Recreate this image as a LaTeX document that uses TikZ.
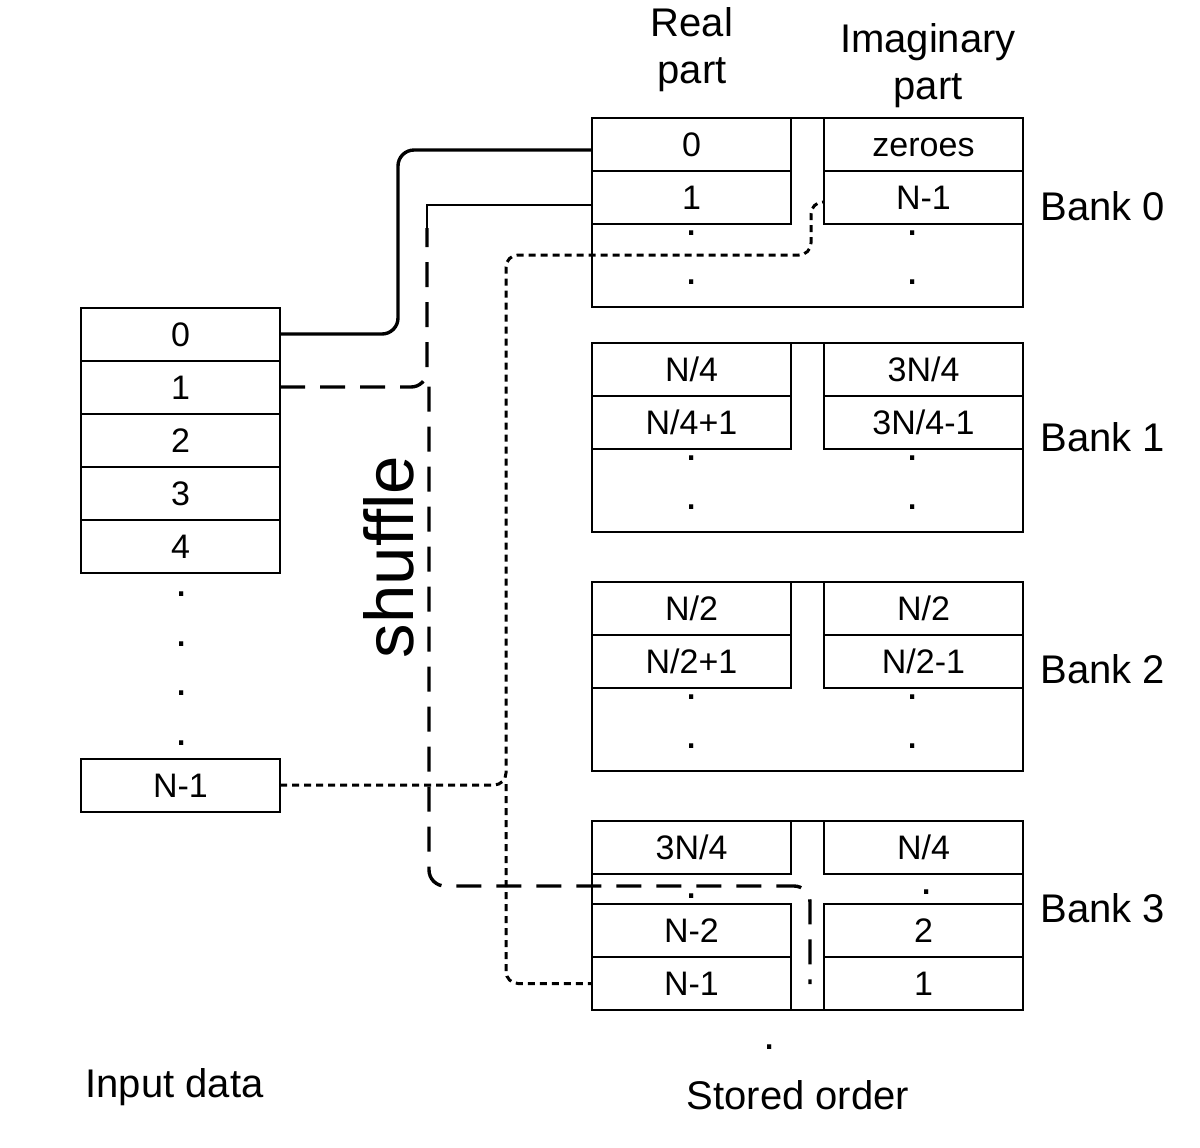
\documentclass[tikz,border=0pt]{standalone}
\usepackage{fontspec}
\setmainfont{Liberation Sans}
\usetikzlibrary{positioning}
\tikzset{
    cell/.style={draw, line width=1pt, outer sep=0pt, inner sep=0pt,
        minimum width=99.5pt, minimum height=26.5pt, text height=12.2pt, text depth=0pt,
        font=\fontsize{17}{20}\selectfont},
    bankbox/.style={draw, line width=1pt, outer sep=0pt, inner sep=0pt,
        minimum width=215.5pt, minimum height=94.5pt},
    pnt/.style={inner sep=0pt, font=\fontsize{22}{22}\selectfont},
    lbl/.style={inner sep=0pt, align=center, font=\fontsize{20}{23.5}\selectfont},
    wireA/.style={line width=1.7pt, rounded corners=8pt},
    wireB/.style={line width=1pt},
    wireC/.style={line width=1.7pt, dash pattern=on 12.5pt off 7.5pt, rounded corners=8pt},
    wireD/.style={line width=1.5pt, dash pattern=on 3.5pt off 2.5pt, rounded corners=6pt}
}
\begin{document}
\begin{tikzpicture}[x=0.5pt, y=-0.5pt]
    \useasboundingbox (0,0) rectangle (1200,1147);
    % input array
    \node[cell] (in0) at (180.5,334) {0};
    \node[cell, below=0pt of in0] (in1) {1};
    \node[cell, below=0pt of in1] (in2) {2};
    \node[cell, below=0pt of in2] (in3) {3};
    \node[cell, below=0pt of in3] (in4) {4};
    \node[pnt] (ind1) at (182,594) {.};
    \node[pnt] (ind2) at (182,644) {.};
    \node[pnt] (ind3) at (182,693) {.};
    \node[pnt] (ind4) at (182,743) {.};
    \node[cell] (inN) at (180.5,785) {N-1};
    \node[lbl, anchor=base] (inlbl) at (174.5,1097) {Input data};
    % banks
    \node[bankbox] (bank0) at (807.5,212.5) {};
    \node[bankbox] (bank1) at (807.5,437.5) {};
    \node[bankbox] (bank2) at (807.5,676.5) {};
    \node[bankbox] (bank3) at (807.5,915.5) {};
    \node[lbl, right=8.5pt of bank0, yshift=3.25pt] (lb0) {Bank 0};
    \node[lbl, right=8.5pt of bank1, yshift=0pt] (lb1) {Bank 1};
    \node[lbl, right=8.5pt of bank2, yshift=3.5pt] (lb2) {Bank 2};
    \node[lbl, right=8.5pt of bank3, yshift=3.75pt] (lb3) {Bank 3};
    \node[lbl] (realhd) at (692,50) {Real\\part};
    \node[lbl] (imaghd) at (928,66) {Imaginary\\part};

    \node[cell, anchor=north west] (b0r0) at (bank0.north west) {0};
    \node[cell, below=0pt of b0r0] (b0r1) {1};
    \node[cell, anchor=north east] (b0i0) at (bank0.north east) {zeroes};
    \node[cell, below=0pt of b0i0] (b0i1) {N-1};

    \node[cell, anchor=north west] (b1r0) at (bank1.north west) {N/4};
    \node[cell, below=0pt of b1r0] (b1r1) {N/4+1};
    \node[cell, anchor=north east] (b1i0) at (bank1.north east) {3N/4};
    \node[cell, below=0pt of b1i0] (b1i1) {3N/4-1};

    \node[cell, anchor=north west] (b2r0) at (bank2.north west) {N/2};
    \node[cell, below=0pt of b2r0] (b2r1) {N/2+1};
    \node[cell, anchor=north east] (b2i0) at (bank2.north east) {N/2};
    \node[cell, below=0pt of b2i0] (b2i1) {N/2-1};

    \node[cell, anchor=north west] (b3r0) at (bank3.north west) {3N/4};
    \node[cell, anchor=south west] (b3r3) at (bank3.south west) {N-1};
    \node[cell, above=0pt of b3r3] (b3r2) {N-2};
    \node[cell, anchor=north east] (b3i0) at (bank3.north east) {N/4};
    \node[cell, anchor=south east] (b3i3) at (bank3.south east) {1};
    \node[cell, above=0pt of b3i3] (b3i2) {2};

    \foreach \b/\y in {0/118,1/343,2/582} {
        \node[pnt] (dr\b a) at (692,\y+115) {.};
        \node[pnt] (dr\b b) at (692,\y+164) {.};
        \node[pnt] (di\b a) at (913,\y+115) {.};
        \node[pnt] (di\b b) at (913,\y+164) {.};
    }
    \node[pnt] (dr3a) at (692,896) {.};
    \node[pnt] (di3a) at (927,892) {.};
    \node[pnt] (dend) at (770,1047) {.};
    \node[lbl] (storedlbl) at (798,1095) {Stored order};

    \node[inner sep=0pt, rotate=90, font=\fontsize{34.5}{40}\selectfont] (shuf) at (389,557) {shuffle};

    % connectors
    \coordinate (b3end) at (810,984);
    \draw[wireA] (in0.east) -- (398,334) |- ([yshift=-2.75pt]b0r0.west);
    \draw[wireB] ([yshift=-3.75pt]b0r1.west) -| (427,228);
    \draw[wireC] (in1.east) -| (427,228);
    \draw[wireC] (429,386.5) |- (810,886) -- (b3end);
    \draw[wireD] (inN.east) -| (506,255) -- (811,255) |- ([yshift=-2.25pt]b0i1.west);
    \draw[wireD] (506,784) |- (b3r3.west);
\end{tikzpicture}
\end{document}
